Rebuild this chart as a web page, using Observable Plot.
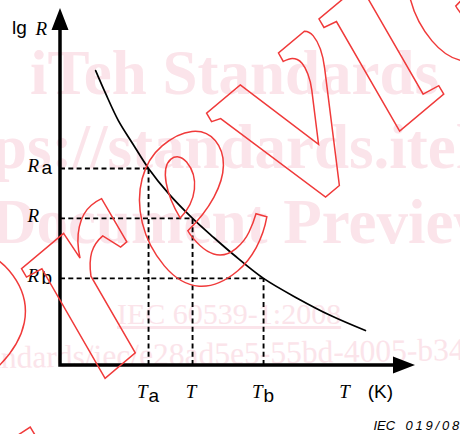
<!DOCTYPE html>
<html>
<head>
<meta charset="utf-8">
<script src="https://cdn.jsdelivr.net/npm/d3@7"></script>
<script src="https://cdn.jsdelivr.net/npm/@observablehq/plot@0.6"></script>
<style>
  html, body { margin: 0; padding: 0; background: #fff; }
  #wrap { position: relative; width: 460px; height: 434px; overflow: hidden; }
  #wrap > svg { position: absolute; left: 0; top: 0; }
</style>
</head>
<body>
<div id="wrap"></div>
<script>
// Axis extents (arbitrary units for the schematic)
const xDomain = [0, 100];
const yDomain = [0, 100];

// Marked operating points: temperature and lg R, with their subscripts
const markedT = [24.8, 37.2, 57.2];
const markedR = [55.2, 41.2, 24.4];
const subscripts = ["a", "", "b"];

// lg R versus T characteristic
const curveT = [9.9, 12.7, 16.3, 20.3, 24.8, 30.4, 37.2, 43.1, 48.7, 57.2, 66.8, 76.1, 85.9];
const curveR = [82.6, 76.2, 68.6, 62.2, 55.2, 48.2, 41.2, 35.9, 31.1, 24.4, 18.8, 14.0, 9.8];

// Axis titles and figure number
const xTitle = "T";
const xUnit = "(K)";
const xTitleAt = 78.5;
const yTitle = ["lg", "R"];
const figureId = ["IEC", "019/08"];

const points = markedT.map((T, i) => ({T, R: markedR[i], sub: subscripts[i]}));
const curve = curveT.map((T, i) => ({T, R: curveR[i]}));

const serif = "'Liberation Serif', 'Times New Roman', serif";
const sans = "'Liberation Sans', Arial, sans-serif";
const fs = 19;

// Thick axes ending in filled arrowheads
function axesWithArrows(index, scales) {
  const {x, y} = scales;
  const x0 = x(xDomain[0]), x1 = x(xDomain[1]);
  const y0 = y(yDomain[0]), y1 = y(yDomain[1]);
  const len = 22, half = 8.5, w = 3.5;
  const g = d3.create("svg:g");
  g.append("path")
    .attr("d", `M${x0},${y0 + w / 2}V${y1 + len - 1}M${x0 - w / 2},${y0}H${x1 - len + 1}`)
    .attr("stroke", "black").attr("stroke-width", w).attr("fill", "none");
  g.append("path")
    .attr("d", `M${x0},${y1}L${x0 - half},${y1 + len}L${x0 + half},${y1 + len}Z`
             + `M${x1},${y0}L${x1 - len},${y0 - half}L${x1 - len},${y0 + half}Z`)
    .attr("fill", "black");
  return g.node();
}

const dash = {stroke: "black", strokeWidth: 1.9, strokeDasharray: "5,3.3"};
const serifLabel = {fontFamily: serif, fontStyle: "italic", fontSize: fs, fill: "black", lineAnchor: "bottom", textAnchor: "start"};
const sansLabel = {fontFamily: sans, fontSize: fs, fill: "black", lineAnchor: "bottom", textAnchor: "start"};

const chart = Plot.plot({
  width: 460,
  height: 434,
  marginLeft: 60,
  marginRight: 45,
  marginTop: 8,
  marginBottom: 69,
  x: {domain: xDomain, axis: null},
  y: {domain: yDomain, axis: null},
  style: {background: "none", overflow: "visible"},
  marks: [
    Plot.ruleY(points, {y: "R", x1: () => xDomain[0], x2: "T", ...dash}),
    Plot.ruleX(points, {x: "T", y1: () => yDomain[0], y2: "R", ...dash}),
    Plot.line(curve, {x: "T", y: "R", curve: "catmull-rom", stroke: "black", strokeWidth: 1.7}),
    axesWithArrows,

    // lg R labels on the vertical axis
    Plot.text(points, {x: () => xDomain[0], y: "R", text: () => "R", dx: -33, dy: 4, ...serifLabel}),
    Plot.text(points, {filter: d => d.sub, x: () => xDomain[0], y: "R", text: "sub", dx: -19, dy: 5.8, ...sansLabel}),

    // T labels on the horizontal axis
    Plot.text(points, {filter: d => d.sub, x: "T", y: () => yDomain[0], text: () => "T", dx: -11.5, dy: 32, ...serifLabel}),
    Plot.text(points, {filter: d => !d.sub, x: "T", y: () => yDomain[0], text: () => "T", dx: -1.5, dy: 32, ...serifLabel, textAnchor: "middle"}),
    Plot.text(points, {filter: d => d.sub, x: "T", y: () => yDomain[0], text: "sub", dx: 0, dy: 36.5, ...sansLabel}),

    // Axis titles
    Plot.text([xTitle], {x: () => xTitleAt, y: () => yDomain[0], text: d => d, dy: 32, ...serifLabel}),
    Plot.text([xUnit], {x: () => xTitleAt, y: () => yDomain[0], text: d => d, dx: 28.5, dy: 32, ...sansLabel}),
    Plot.text([yTitle[0]], {x: () => xDomain[0], y: () => yDomain[1], text: d => d, dx: -48.5, dy: 25.5, ...sansLabel}),
    Plot.text([yTitle[1]], {x: () => xDomain[0], y: () => yDomain[1], text: d => d, dx: -25, dy: 26, ...serifLabel}),

    // Figure number
    Plot.text([figureId[0]], {frameAnchor: "bottom-right", text: d => d, dx: -42, dy: 64, ...sansLabel, fontStyle: "italic", fontSize: 13}),
    Plot.text([figureId[1]], {frameAnchor: "bottom-right", text: d => d, dx: -10, dy: 64, ...sansLabel, fontStyle: "italic", fontSize: 13})
  ]
});
// The figure number is set with wider spacing between its digits
d3.select(chart).selectAll("text")
  .filter(function() { return this.textContent === figureId[1]; })
  .attr("letter-spacing", "2.8px");

const wrap = document.getElementById("wrap");

// Pale preview watermark behind the figure
const back = d3.select(wrap).append("svg").attr("width", 460).attr("height", 434)
  .attr("font-family", "'Liberation Serif', 'Times New Roman', serif").attr("fill", "#fbe4ea");
back.append("text").attr("x", 30).attr("y", 94).attr("font-size", 63).attr("font-weight", "bold").text("iTeh Standards");
back.append("text").attr("x", -106).attr("y", 168).attr("font-size", 63).attr("font-weight", "bold").text("(https://standards.iteh.ai)");
back.append("text").attr("x", -9).attr("y", 243).attr("font-size", 63).attr("font-weight", "bold").text("Document Preview");
back.append("text").attr("x", 117).attr("y", 324).attr("font-size", 30).attr("text-decoration", "underline").text("IEC 60539-1:2008");
back.append("text").attr("x", -34).attr("y", 364).attr("font-size", 31.5).attr("transform", "rotate(-1 230 360)")
  .text("standards/iec/e28ad5e5-55bd-4005-b34f-1c2a");

wrap.appendChild(chart);

// Red outlined stamp lettering over the figure
const front = d3.select(wrap).append("svg").attr("width", 460).attr("height", 434);
front.append("text")
  .attr("transform", "translate(-40,500) rotate(-40)")
  .attr("font-family", "'Liberation Serif', 'Times New Roman', serif")
  .attr("font-weight", "bold").attr("font-style", "italic").attr("font-size", 300)
  .attr("fill", "none").attr("stroke", "#f03a3a").attr("stroke-width", 1.5)
  .text("Preview");
</script>
</body>
</html>
